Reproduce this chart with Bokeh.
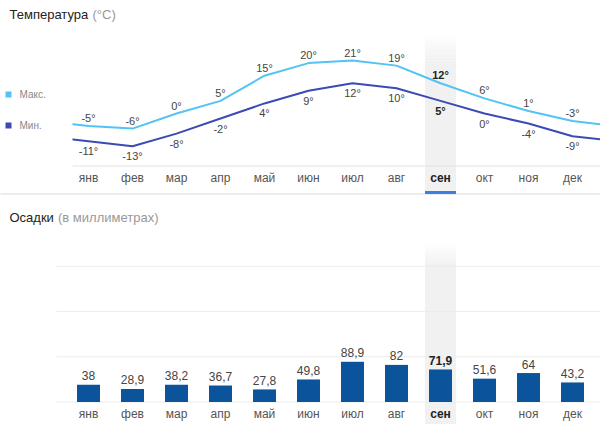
import numpy as np
from bokeh.plotting import figure
from bokeh.models import Range1d, ColumnDataSource, BoxAnnotation
from bokeh.layouts import column
from bokeh.core.properties import value
from bokeh.embed import file_html
from bokeh.resources import INLINE

# ---------------- data ----------------
months = ["янв", "фев", "мар", "апр", "май", "июн", "июл", "авг", "сен", "окт", "ноя", "дек"]
t_max = [-5, -6, 0, 5, 15, 20, 21, 19, 12, 6, 1, -3]
t_min = [-11, -13, -8, -2, 4, 9, 12, 10, 5, 0, -4, -9]
precip = [38, 28.9, 38.2, 36.7, 27.8, 49.8, 88.9, 82, 71.9, 51.6, 64, 43.2]
highlight = 8  # сен
grid_mm = [0, 100, 200, 300]

FONT = value("Liberation Sans")
C_MAX = "#52c3f4"
C_MIN = "#3b4bb3"
C_BAR = "#0b549c"
C_BAND = "#f1f1f1"

# page-pixel -> data helpers (layout only)
def dx(px):
    return (px - 88) / 44.0

def dt(py):
    return (113 - py) / 2.52

def dm(py):
    return (401.5 - py) / 0.4525

W = 600
BAND_W = 31 / 44.0
idx = list(range(len(months)))


def base_fig(h, yr):
    p = figure(width=W, height=h, x_range=Range1d(dx(0), dx(600)), y_range=yr,
               x_axis_type=None, y_axis_type=None, toolbar_location=None,
               output_backend="svg", min_border=0, outline_line_color=None,
               background_fill_color="white", border_fill_color="white")
    p.grid.visible = False
    return p


def band(p, y_fade_top, y_solid_top, y_bottom, conv):
    l = highlight - BAND_W / 2
    r = highlight + BAND_W / 2
    p.quad(left=[l], right=[r], top=[conv(y_solid_top)], bottom=[conv(y_bottom)],
           fill_color=C_BAND, line_color=None, level="underlay")
    n = 10
    step = (y_solid_top - y_fade_top) / n
    tops = [conv(y_fade_top + k * step) for k in range(n)]
    bots = [conv(y_fade_top + (k + 1) * step) for k in range(n)]
    alphas = [(k + 0.5) / n for k in range(n)]
    p.quad(left=[l] * n, right=[r] * n, top=tops, bottom=bots, fill_color=C_BAND,
           fill_alpha=alphas, line_color=None, level="underlay")


# ---------------- temperature ----------------
top = base_fig(196, Range1d(dt(196), dt(0)))
band(top, 33, 60, 191, dt)

# baseline
top.segment(x0=[dx(0)], x1=[dx(600)], y0=[dt(165.5)], y1=[dt(165.5)], line_color="#e2e2e2", line_width=1)

xs = list(range(-1, len(months) + 1))
top.line(xs, [t_max[-1]] + t_max + [t_max[0]], line_color=C_MAX, line_width=2)
top.line(xs, [t_min[-1]] + t_min + [t_min[0]], line_color=C_MIN, line_width=2)

styles = ["bold" if i == highlight else "normal" for i in idx]
tcolors = ["#222222" if i == highlight else "#444444" for i in idx]
src_max = ColumnDataSource(dict(x=idx, y=t_max, text=[f"{v}°" for v in t_max], st=styles, c=tcolors))
src_min = ColumnDataSource(dict(x=idx, y=t_min, text=[f"{v}°" for v in t_min], st=styles, c=tcolors))
top.text(x="x", y="y", text="text", source=src_max, text_font=FONT, text_font_size="11px",
         text_font_style="st", text_color="c", text_align="center", text_baseline="middle", y_offset=-8)
top.text(x="x", y="y", text="text", source=src_min, text_font=FONT, text_font_size="11px",
         text_font_style="st", text_color="c", text_align="center", text_baseline="middle", y_offset=10)

mcolors = ["#222222" if i == highlight else "#555555" for i in idx]
src_m = ColumnDataSource(dict(x=idx, y=[dt(177)] * len(months), text=months, st=styles, c=mcolors))
top.text(x="x", y="y", text="text", source=src_m, text_font=FONT, text_font_size="12px",
         text_font_style="st", text_color="c", text_align="center", text_baseline="middle")

# cover left strip so the lines start at the plot edge
top.add_layout(BoxAnnotation(left=dx(0), right=dx(72), bottom=dt(196), top=dt(0),
                             fill_color="white", fill_alpha=1, line_color=None))

# separator + highlight underline
top.segment(x0=[dx(0)], x1=[dx(600)], y0=[dt(193.5)], y1=[dt(193.5)], line_color="#dadada",
            line_width=1, level="overlay")
top.quad(left=[highlight - BAND_W / 2], right=[highlight + BAND_W / 2], top=[dt(190.5)],
         bottom=[dt(193.5)], fill_color="#3b7fe3", line_color=None, level="overlay")

# title
top.text(x=[dx(9)], y=[dt(14)], text=["Температура"], text_font=FONT, text_font_size="13px",
         text_color="#222222", text_align="left", text_baseline="middle", level="overlay")
top.text(x=[dx(92)], y=[dt(14)], text=["(°C)"], text_font=FONT, text_font_size="13px",
         text_color="#999999", text_align="left", text_baseline="middle", level="overlay")

# legend
top.scatter(x=[dx(8), dx(8)], y=[dt(94), dt(125)], marker="square", size=6,
            fill_color=[C_MAX, C_MIN], line_color=None, level="overlay")
top.text(x=[dx(19), dx(19)], y=[dt(94), dt(125)], text=["Макс.", "Мин."], text_font=FONT,
         text_font_size="10px", text_color="#888888", text_align="left", text_baseline="middle",
         level="overlay")

# ---------------- precipitation ----------------
bot = base_fig(228, Range1d(dm(424), dm(196)))
band(bot, 243, 263, 424, dm)

bot.segment(x0=[dx(56)] * len(grid_mm), x1=[dx(600)] * len(grid_mm), y0=grid_mm, y1=grid_mm,
            line_color="#ececec", line_width=1)

bot.vbar(x=idx, top=precip, bottom=0, width=23 / 44.0, fill_color=C_BAR, line_color=None)

pcolors = ["#222222" if i == highlight else "#444444" for i in idx]
src_p = ColumnDataSource(dict(x=idx, y=precip, text=[f"{v:g}".replace(".", ",") for v in precip],
                              st=styles, c=pcolors))
bot.text(x="x", y="y", text="text", source=src_p, text_font=FONT, text_font_size="12px",
         text_font_style="st", text_color="c", text_align="center", text_baseline="middle", y_offset=-9)

src_m2 = ColumnDataSource(dict(x=idx, y=[dm(413)] * len(months), text=months, st=styles, c=mcolors))
bot.text(x="x", y="y", text="text", source=src_m2, text_font=FONT, text_font_size="12px",
         text_font_style="st", text_color="c", text_align="center", text_baseline="middle")

bot.text(x=[dx(9)], y=[dm(217)], text=["Осадки"], text_font=FONT, text_font_size="13px",
         text_color="#222222", text_align="left", text_baseline="middle", level="overlay")
bot.text(x=[dx(57.5)], y=[dm(217)], text=["(в миллиметрах)"], text_font=FONT, text_font_size="13px",
         text_color="#999999", text_align="left", text_baseline="middle", level="overlay")

layout = column(top, bot)
open("out.html", "w").write(file_html(layout, INLINE))
